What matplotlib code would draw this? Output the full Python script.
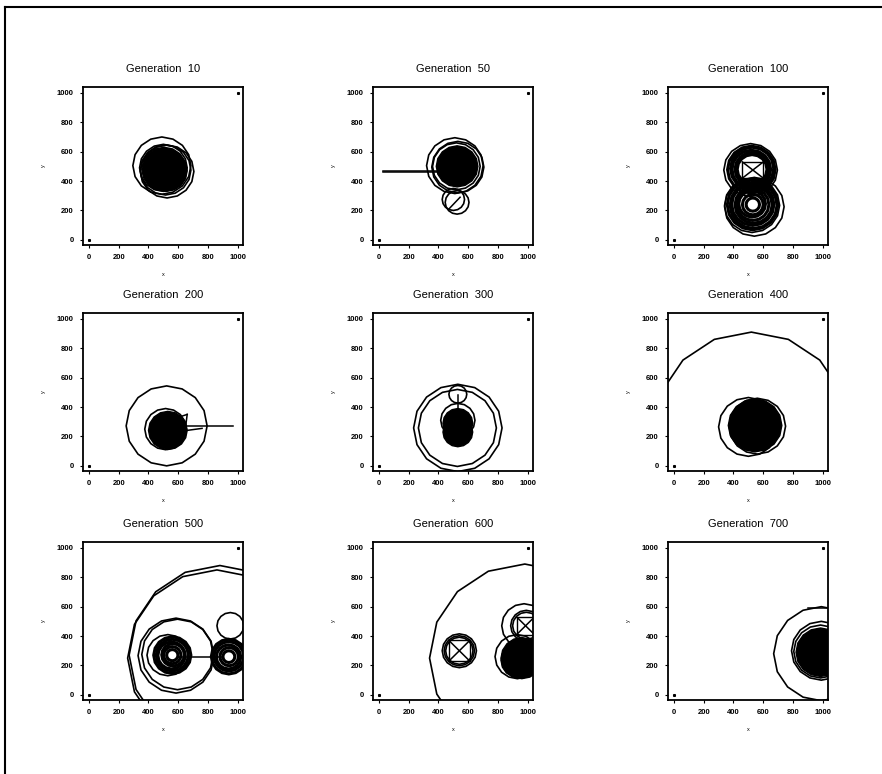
import matplotlib
matplotlib.use("Agg")
import matplotlib.pyplot as plt
from matplotlib.patches import RegularPolygon
from matplotlib.lines import Line2D

plt.rcParams['font.family'] = ['Liberation Sans', 'DejaVu Sans']

# ---------------- data ----------------
generations = [10, 50, 100, 200, 300, 400, 500, 600, 700]
tick_values = [0, 200, 400, 600, 800, 1000]
anchor_x = [0, 1000]
anchor_y = [0, 1000]

# outline circles (cx, cy, r)
g10_rings = [(490, 505, 195), (525, 465, 180), (500, 490, 160), (515, 475, 170)]
g50_rings = [(510, 505, 190), (530, 495, 175), (520, 500, 160), (525, 255, 80), (500, 275, 75)]
g100_rings = [(515, 475, 180), (540, 225, 200), (525, 235, 185)]
g200_rings = [(522, 272, 272), (515, 250, 140)]
g300_rings = [(530, 258, 297), (527, 258, 262), (530, 487, 60), (530, 310, 115)]
g400_rings = [(520, 260, 650), (500, 265, 200), (560, 270, 190)]
g500_rings = [(880, 270, 610), (860, 250, 600), (585, 267, 255), (595, 275, 240), (950, 470, 90),
              (530, 270, 140)]
g600_rings = [(980, 250, 640), (540, 300, 115), (540, 300, 102), (540, 300, 92),
              (975, 470, 150), (990, 470, 105), (990, 470, 92), (930, 260, 150)]
g700_rings = [(990, 280, 320), (990, 300, 200), (985, 295, 180)]

# densely overlapping circles, drawn heavy (cx, cy, r)
g100_dense = [(525, 480, 100), (525, 480, 115), (520, 480, 130), (525, 485, 145), (520, 478, 160),
              (530, 240, 45), (530, 240, 70), (525, 245, 90), (530, 240, 108), (535, 238, 125),
              (530, 240, 142), (535, 235, 158), (528, 238, 170)]
g500_dense = [(560, 270, 125), (560, 270, 108), (555, 268, 92), (565, 272, 76), (560, 270, 58),
              (560, 270, 38), (940, 260, 118), (940, 262, 100), (938, 258, 82), (942, 260, 62),
              (940, 260, 40)]

# filled dense clusters (cx, cy, r)
g10_blobs = [(505, 480, 150), (520, 470, 140)]
g50_blobs = [(525, 500, 140)]
g200_blobs = [(530, 241, 130)]
g300_blobs = [(530, 290, 100), (530, 230, 100)]
g400_blobs = [(545, 275, 180)]
g600_blobs = [(960, 250, 140), (940, 235, 120)]
g700_blobs = [(985, 290, 165)]

# straight segments ((x0, y0), (x1, y1))
g50_lines = [((30, 470), (420, 470)), ((30, 464), (400, 464)), ((470, 210), (545, 290))]
g100_lines = [((460, 420), (600, 530)), ((460, 530), (600, 420))]
g200_lines = [((560, 272), (970, 272)), ((600, 330), (660, 350)), ((660, 350), (650, 270)),
              ((650, 240), (760, 255))]
g300_lines = [((530, 480), (530, 380))]
g500_lines = [((600, 260), (900, 260))]
g600_lines = [((470, 230), (610, 370)), ((470, 370), (610, 230)),
              ((925, 410), (1045, 530)), ((925, 530), (1045, 410))]
g700_lines = [((900, 590), (1040, 590))]

# boxes (x0, y0, x1, y1)
g100_boxes = [(460, 420, 600, 530)]
g600_boxes = [(470, 230, 610, 370), (925, 410, 1045, 530)]

rings_all = [g10_rings, g50_rings, g100_rings, g200_rings, g300_rings,
             g400_rings, g500_rings, g600_rings, g700_rings]
dense_all = [[], [], g100_dense, [], [], [], g500_dense, [], []]
blobs_all = [g10_blobs, g50_blobs, [], g200_blobs, g300_blobs,
             g400_blobs, [], g600_blobs, g700_blobs]
lines_all = [[], g50_lines, g100_lines, g200_lines, g300_lines,
             [], g500_lines, g600_lines, g700_lines]
boxes_all = [[], [], g100_boxes, [], [], [], [], g600_boxes, []]

# ---------------- layout ----------------
W, H = 882, 774
fig = plt.figure(figsize=(W / 100, H / 100), dpi=100)
col_left = [83, 373, 668]
row_top = [87, 313, 542]
aw, ah = 160, 158

for i, gen in enumerate(generations):
    r, c = divmod(i, 3)
    ax = fig.add_axes([col_left[c] / W, 1 - (row_top[r] + ah) / H, aw / W, ah / H])
    ax.set_xlim(-40, 1035)
    ax.set_ylim(-35, 1040)
    for (cx, cy, rad) in blobs_all[i]:
        ax.add_patch(RegularPolygon((cx, cy), numVertices=16, radius=rad,
                                    facecolor='black', edgecolor='black', lw=1.0))
    for (cx, cy, rad) in dense_all[i]:
        ax.add_patch(RegularPolygon((cx, cy), numVertices=16, radius=rad,
                                    facecolor='none', edgecolor='black', lw=2.2))
    for (cx, cy, rad) in rings_all[i]:
        ax.add_patch(RegularPolygon((cx, cy), numVertices=16, radius=rad,
                                    facecolor='none', edgecolor='black', lw=1.2))
    for (x0, y0, x1, y1) in boxes_all[i]:
        ax.plot([x0, x1, x1, x0, x0], [y0, y0, y1, y1, y0], color='black', lw=1.0)
    for (p0, p1) in lines_all[i]:
        ax.plot([p0[0], p1[0]], [p0[1], p1[1]], color='black', lw=1.1)
    ax.plot(anchor_x, anchor_y, 's', color='black', ms=1.2, ls='none')
    ax.set_xticks(tick_values)
    ax.set_yticks(tick_values)
    ax.tick_params(labelsize=5.5, length=2.5, width=0.8, pad=4, direction='out')
    for lab in ax.get_xticklabels() + ax.get_yticklabels():
        lab.set_fontweight('bold')
    ax.set_title(f"Generation  {gen}", fontsize=8, pad=11)
    ax.set_xlabel("x", fontsize=4, labelpad=8)
    ax.set_ylabel("y", fontsize=4, labelpad=8)
    for s in ax.spines.values():
        s.set_linewidth(1.3)

# outer frame (top and left edges)
fig.add_artist(Line2D([5 / W, 1.0], [1 - 7 / H, 1 - 7 / H], color='black', lw=1.5))
fig.add_artist(Line2D([5 / W, 5 / W], [0.0, 1 - 7 / H], color='black', lw=1.5))

fig.savefig("out.png", dpi=100)
